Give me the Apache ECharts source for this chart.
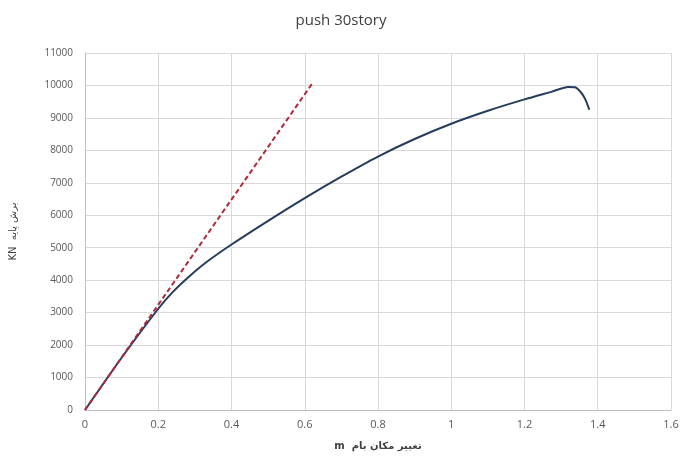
<!DOCTYPE html>
<html>
<head>
<meta charset="utf-8">
<script src="https://cdn.jsdelivr.net/npm/echarts@6/dist/echarts.min.js"></script>
<style>
  html, body { margin: 0; padding: 0; background: #fff; }
  #chart { width: 682px; height: 457px; }
</style>
</head>
<body>
<div id="chart"></div>
<script>
// Pushover curve: roof displacement (m) vs base shear (KN)
const pushDisp  = [0, 0.1, 0.2, 0.24, 0.286, 0.332, 0.4, 0.5, 0.6, 0.7, 0.8, 0.9, 1.0, 1.1, 1.2, 1.275, 1.32, 1.338, 1.356, 1.367, 1.377];
const pushShear = [0, 1610, 3120, 3640, 4130, 4560, 5100, 5830, 6530, 7190, 7810, 8350, 8820, 9220, 9570, 9810, 9955, 9945, 9760, 9550, 9250];

// Initial stiffness line
const elasticDisp  = [0, 0.621];
const elasticShear = [0, 10070];

const xTicks = { min: 0, max: 1.6, step: 0.2 };
const yTicks = { min: 0, max: 11000, step: 1000 };

const zip = (a, b) => a.map((v, i) => [v, b[i]]);

const chart = echarts.init(document.getElementById('chart'), null, { renderer: 'canvas' });
chart.setOption({
  animation: false,
  backgroundColor: '#ffffff',
  title: {
    text: 'push 30story',
    left: 'center',
    top: 8,
    textStyle: { fontFamily: 'Open Sans, DejaVu Sans, sans-serif', fontSize: 15, fontWeight: 'normal', color: '#404040' }
  },
  grid: { left: 85, right: 11, top: 53, bottom: 47 },
  xAxis: {
    type: 'value',
    min: xTicks.min, max: xTicks.max, interval: xTicks.step,
    name: 'm  تغییر مکان بام',
    nameLocation: 'middle',
    nameGap: 31,
    nameTextStyle: { fontFamily: 'DejaVu Sans, sans-serif', fontSize: 10, color: '#404040', fontWeight: 'bold' },
    axisLine: { show: true, lineStyle: { color: '#bfbfbf' } },
    axisTick: { show: false },
    axisLabel: { color: '#595959', fontSize: 11, fontFamily: 'Open Sans, sans-serif', margin: 9 },
    splitLine: { show: true, lineStyle: { color: '#d9d9d9', width: 1 } }
  },
  yAxis: {
    type: 'value',
    min: yTicks.min, max: yTicks.max, interval: yTicks.step,
    name: 'KN  برش پایه',
    nameLocation: 'middle',
    nameGap: 67,
    nameRotate: 90,
    nameTextStyle: { fontFamily: 'DejaVu Sans, sans-serif', fontSize: 10, color: '#404040' },
    axisLine: { show: true, lineStyle: { color: '#bfbfbf' } },
    axisTick: { show: false },
    axisLabel: {
      color: '#595959', fontSize: 10, fontFamily: 'Open Sans, sans-serif', margin: 12,
      formatter: v => String(v)
    },
    splitLine: { show: true, lineStyle: { color: '#d9d9d9', width: 1 } }
  },
  series: [
    {
      name: 'elastic',
      type: 'line',
      data: zip(elasticDisp, elasticShear),
      showSymbol: false,
      lineStyle: { color: '#b0283a', width: 2, type: [5, 3] },
      z: 3
    },
    {
      name: 'pushover',
      type: 'line',
      data: zip(pushDisp, pushShear),
      smooth: 0.25,
      showSymbol: false,
      lineStyle: { color: '#253d5c', width: 2 },
      z: 2
    }
  ]
});
</script>
</body>
</html>
